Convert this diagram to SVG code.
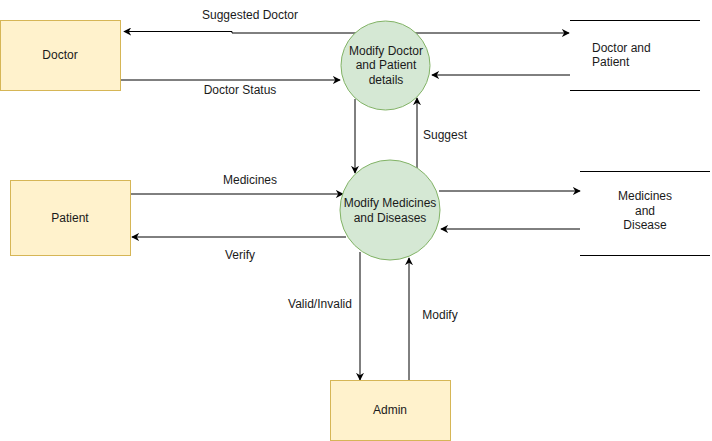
<svg xmlns="http://www.w3.org/2000/svg" width="712" height="441" viewBox="0 0 712 441">
<defs>
<marker id="arr" viewBox="0 0 10 10" refX="9" refY="5" markerWidth="8" markerHeight="8" orient="auto" markerUnits="userSpaceOnUse">
<path d="M0,0 L10,5 L0,10 L3,5 Z" fill="#000"/>
</marker>
<style>
.ent{fill:#fff2cc;stroke:#d6b656;stroke-width:1}
.proc{fill:#d5e8d4;stroke:#82b366;stroke-width:1}
.store{stroke:#000;stroke-width:1}
.c{fill:none;stroke:#000;stroke-width:1;marker-end:url(#arr)}
text{font-family:"Liberation Sans",Arial,sans-serif;font-size:12px;fill:#1a1a1a}
.m{text-anchor:middle}
</style>
</defs>
<rect width="712" height="441" fill="#fff"/>
<g id="connectors">
<path class="c" d="M385,33 L232,33 L232,31.5 L124,31.5"/>
<path class="c" d="M385,33 L569,33"/>
<path class="c" d="M120,80 L340,80"/>
<path class="c" d="M570,75 L432,75"/>
<path class="c" d="M355,99 L355,173"/>
<path class="c" d="M417,168 L417,98"/>
<path class="c" d="M130,194 L343,194"/>
<path class="c" d="M346,237 L132,237"/>
<path class="c" d="M439,191 L580,191"/>
<path class="c" d="M580,229 L441,229"/>
<path class="c" d="M360,252 L360,380"/>
<path class="c" d="M409,380 L409,258"/>
<text x="250" y="19" class="m">Suggested Doctor</text>
<text x="240" y="94" class="m">Doctor Status</text>
<text x="445" y="139" class="m">Suggest</text>
<text x="250" y="184" class="m">Medicines</text>
<text x="240" y="259" class="m">Verify</text>
<text x="320" y="308" class="m">Valid/Invalid</text>
<text x="440" y="319" class="m">Modify</text>
</g>
<g id="doctor">
<rect class="ent" x="0.5" y="20.5" width="120" height="70"/>
<text x="60" y="59" class="m">Doctor</text>
</g>
<g id="patient">
<rect class="ent" x="10.5" y="180.5" width="120" height="75"/>
<text x="70" y="222" class="m">Patient</text>
</g>
<g id="admin">
<rect class="ent" x="330.5" y="380.5" width="120" height="60"/>
<text x="390" y="414" class="m">Admin</text>
</g>
<g id="proc1">
<circle class="proc" cx="385.5" cy="65.5" r="44.5"/>
<text x="386" y="55" class="m">Modify Doctor</text>
<text x="386" y="69" class="m">and Patient</text>
<text x="386" y="84" class="m">details</text>
</g>
<g id="proc2">
<circle class="proc" cx="390" cy="210" r="50"/>
<text x="390" y="207" class="m">Modify Medicines</text>
<text x="390" y="222" class="m">and Diseases</text>
</g>
<g id="store1">
<line class="store" x1="570" y1="20.5" x2="700" y2="20.5"/>
<line class="store" x1="570" y1="90.5" x2="700" y2="90.5"/>
<text x="592" y="52">Doctor and</text>
<text x="592" y="66">Patient</text>
</g>
<g id="store2">
<line class="store" x1="580" y1="171.5" x2="710" y2="171.5"/>
<line class="store" x1="580" y1="255.5" x2="710" y2="255.5"/>
<text x="645" y="200" class="m">Medicines</text>
<text x="645" y="215" class="m">and</text>
<text x="645" y="229" class="m">Disease</text>
</g>
</svg>
